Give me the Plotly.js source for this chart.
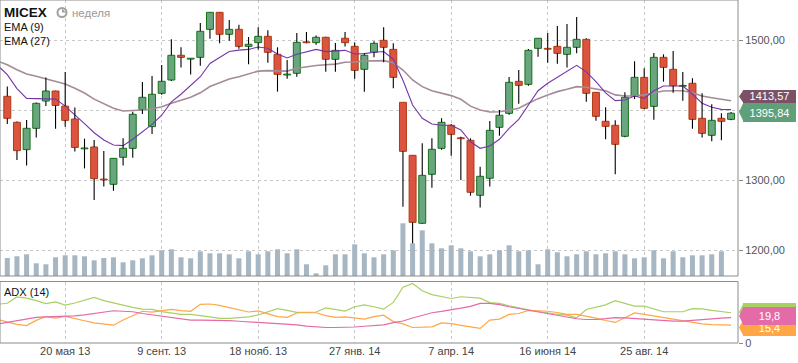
<!DOCTYPE html>
<html><head><meta charset="utf-8">
<script src="https://cdn.plot.ly/plotly-3.0.1.min.js"></script>
<style>html,body{margin:0;padding:0;background:#fff;}#chart{width:798px;height:363px;}</style>
</head><body><div id="chart"></div>
<script>
// Weekly MICEX candles (index 0..75)
const openP = [1420,1382.9,1343.8,1374.3,1413.3,1427.6,1406,1387.6,1345,1347.6,
 1301.5,1294.3,1332.9,1345.7,1401,1376.7,1424.3,1443.3,1478.6,1473.2,
 1475.7,1515.7,1540,1508.6,1515.7,1491.4,1496.7,1505.7,1480,1450.5,
 1452.9,1497.6,1496.7,1504.3,1472.9,1502.9,1491.4,1458.6,1482.9,1500,
 1487.1,1411.4,1335.7,1238.6,1308.6,1345.7,1378.6,1360.5,1357.1,1278.6,
 1302.9,1375.7,1395.7,1441.4,1437.1,1488.6,1488.3,1491.4,1480,1490,
 1501.4,1425.7,1384.3,1378.6,1362.9,1420,1447.1,1405.7,1475.7,1458.6,
 1434.4,1438.6,1388.6,1364.3,1388.6,1387.1];
const highP = [1434,1384,1386,1411,1447,1428,1454.8,1404,1359.5,1357.6,
 1342,1332,1360,1398,1440.5,1449,1464.8,1501.4,1490,1474.5,
 1524.8,1540.5,1540.5,1529,1522.4,1504.8,1518.6,1514.3,1490,1471.9,
 1510.5,1511.9,1507,1505,1496.2,1511.9,1497,1481.4,1498.6,1518.6,
 1495.7,1411.6,1336,1352.9,1360,1388.6,1380,1362.4,1360,1319.5,
 1384.8,1400.5,1447.6,1457.6,1487.6,1503.3,1510.5,1520.5,1523.3,1533.3,
 1503,1426,1404.3,1385.7,1425.7,1470,1460,1481.9,1480,1484.8,
 1454.8,1445.7,1424.3,1408.6,1395.7,1397.5];
const lowP = [1380.5,1329,1321,1361,1406,1373.8,1376.7,1341,1317,1272,
 1291,1285,1321,1332.4,1394.8,1366,1422.4,1442,1461,1451,
 1463.8,1502.4,1495.7,1499.5,1488,1465.7,1487,1468,1426.7,1445.2,
 1448,1495.7,1493.8,1455.2,1455.2,1491,1445.2,1426.7,1475.7,1468.6,
 1431.4,1262.4,1183.8,1238,1289.5,1343.8,1335.2,1300.5,1278,1261,
 1291,1363.8,1393.8,1409.5,1435.2,1476.7,1468,1466.7,1461,1481.4,
 1412.4,1385.2,1358.6,1308.6,1361.4,1416.2,1401.4,1386.7,1441,1425.2,
 1413.8,1373.8,1361,1355.7,1357.1,1385.7];
const closeP = [1388.6,1342.4,1374.3,1410,1427.6,1407,1385.7,1347,1346,1302.4,
 1300.5,1331.4,1345.7,1394.3,1418.6,1422.9,1441.4,1478.6,1475.7,1474.4,
 1512.9,1540,1508.6,1515.7,1491.4,1494.3,1505.7,1482.9,1451.4,1451.5,
 1497.1,1496.6,1504.3,1472.9,1485.7,1496.7,1457.1,1478.6,1495.7,1490,
 1447.1,1341.4,1240,1307.1,1344.3,1382.9,1365.7,1359.5,1282.9,1305.7,
 1371.4,1392.9,1440,1435.7,1485.7,1502.9,1487.3,1481.4,1490,1501.4,
 1424.3,1391.4,1377.1,1351.4,1418.6,1447.1,1402.9,1475.7,1461.4,1435.2,
 1435.2,1387.1,1367.1,1385.7,1384.3,1395.84];
const volume = [18,19.7,21.7,12.7,11.7,18.7,20.7,20.7,19.7,15.7,
 18,18.7,13.7,15.7,17.7,20.7,25.7,26.7,18.7,17.7,
 24.7,22.7,22.7,21.7,17.7,24.7,21.7,24.7,26.7,22.7,
 26.7,11.7,2.7,10.7,21.7,21.7,31.7,22.7,18.7,21.7,
 25.7,52.7,32.7,45.7,32.7,27.7,30.7,27.7,24.7,19.7,
 21.7,25.7,30.7,24.7,25.7,11.7,26.7,23.7,19.7,21.7,
 24.7,21.7,22.7,24.7,21.7,17.7,18.7,25.7,17.7,24.7,
 18.7,20.7,20.7,21.7,24.7,null];
// Indicator lines, index -1..75
const ema9 = [1464.2, 1451,1431,1417,1416.7,1416,1416,1406,1394,1381,1368,
 1357.6,1350.5,1349.5,1358.6,1369.5,1380,1393,1412,1423,1436,
 1448,1467,1475.7,1484,1486,1487,1490.5,1488.6,1480.5,1474.8,
 1480,1483.3,1487,1483.8,1484.3,1485.7,1480.5,1481,1483,1484,
 1473,1443,1407.6,1388.6,1380.5,1378.6,1378.6,1372,1355,1345.7,
 1349,1358.6,1374.3,1387,1407.6,1428,1438.6,1447,1455,1464.3,
 1455,1441,1425,1413.8,1414.8,1420.5,1417,1428,1434.8,1434.8,
 1434.8,1423.3,1410,1404.3,1401.4,1401];
const ema27 = [1470.3, 1465,1458,1452,1448.6,1445,1441.4,1437.6,1431.4,1424.8,1416,
 1410,1403,1399,1399.5,1400.5,1402,1405,1410,1414,1418.6,
 1425,1434,1439.5,1444.8,1448,1452,1456,1456.7,1456.7,1456,
 1460,1462.4,1464,1465,1466,1468.6,1469,1470.5,1471,1471,
 1468,1457.6,1443.3,1433.8,1428,1424.3,1421,1415.7,1406,1400.5,
 1397.6,1398,1400.5,1402.9,1410,1416.7,1422,1426.7,1430,1433.8,
 1432.9,1430,1428,1422,1420.5,1420.5,1422,1425.2,1427.6,1428,
 1428,1425.2,1420.5,1418,1415.7,1413.6];
const adxGreen = [31.5, 32.3,37.5,36.5,34.5,32,33.4,30.8,32.5,34.8,37,
 34.5,32.5,31,29,27.5,27.3,25.5,24.4,23.2,23.2,
 22.5,21.2,20.1,20,20.6,21.3,22.8,25.5,28,26.5,
 24.9,24.9,25.2,28.5,27.5,26,29.5,31,29.5,27.5,
 33,45.4,48.4,42.5,39.3,37.5,36.2,37.6,37.3,36.5,
 32.8,32.2,30.3,28.5,27,25.6,24.3,23.4,22.7,20.5,
 27.2,28.8,31,34.4,32,30,30,27.5,25.4,25.4,
 25.4,28,27.8,26.5,25.5,24.6];
const adxPink = [15.5, 16.8,18.6,19.9,20.9,21.2,21.3,21.3,22,22.9,24,
 25.2,26.2,25.8,25.4,24,22.9,21.8,20.5,19.3,18.6,
 18.6,18.6,18.6,18.2,17.7,17.2,16.8,16.4,16,15.7,
 14.8,13.7,12.9,12.6,12.6,12.6,13,13.6,14.2,14.8,
 16.5,17.9,20.3,22.6,24.6,25.7,27.3,28.3,29.8,32.2,
 32.2,31.2,29.5,28.1,26.7,25.2,23.6,21.9,20.5,19.7,
 19.1,19.1,19.8,20.7,20.4,19.8,19.2,18.4,17.9,17.8,
 17.8,18.5,19.2,19.6,20.2,20.6];
const adxOrange = [19, 17.3,15.2,14.2,18.4,21.5,20.2,21.6,20.1,18.1,16.4,
 15.3,14.5,18.7,22.3,25.8,25.1,26.4,27.4,26.3,25.8,
 31.4,31.7,30.6,29,26.9,25.2,26.1,24,21.5,20.8,
 24.4,24.8,24.6,22.3,20.9,21.2,20.4,19.4,21.4,22.6,
 17.4,15.5,12.6,12.7,13.1,16.4,15.8,14.3,13,11.9,
 18.6,19.4,23.3,24,26.5,26.3,25.8,24.8,23.2,23.2,
 21.8,20.2,18.3,16.7,20.5,24.4,23.3,22,20.7,19.5,
 18.6,17,15.6,15,14.5,14.5];
const tickPos = [6,16,26,36,46,56,66];
const tickLabels = ['20 мая 13','9 сент. 13','18 нояб. 13','27 янв. 14','7 апр. 14','16 июня 14','25 авг. 14'];
const priceTicks = [1200,1300,1400,1500];
// the 1400,00 label is hidden behind the last-price marker in the reference
const priceTickText = ['1200,00','1300,00','','1500,00'];

const N = openP.length;
const xi = openP.map((_, i) => i);
const xl = ema9.map((_, i) => i - 1);

const GREEN = '#69a680', GREEN_B = '#17701a', RED = '#dc5440', RED_B = '#ad3a12';
const up = openP.map((o, i) => closeP[i] >= o);
const bodyBase = openP.map((o, i) => Math.min(o, closeP[i]));
const bodyH = openP.map((o, i) => Math.max(Math.abs(closeP[i] - o), 1.2));

const wx = [], wy = [];
for (let i = 0; i < N; i++) {
  const top = Math.max(openP[i], closeP[i]), bot = Math.min(openP[i], closeP[i]);
  wx.push(i, i, null, i, i, null);
  wy.push(highP[i], top, null, bot, lowP[i], null);
}

const W = 738, H = 343;
const PX = p => p / W;
const PY = p => (H - p) / H;
const FONT = 'Liberation Sans, Arial, sans-serif';

const traces = [
  {type:'bar', x: xi, y: volume, yaxis:'y2', width:0.52, marker:{color:'#a6b6c2', line:{width:0}}, hoverinfo:'skip'},
  {type:'bar', x: xi, y: bodyH, base: bodyBase, width:0.72,
   marker:{color: up.map(u => u ? GREEN : RED), line:{color: up.map(u => u ? GREEN_B : RED_B), width:1}}, hoverinfo:'skip'},
  {type:'scatter', mode:'lines', x: xl, y: ema27, line:{color:'#a58a98', width:1.6}, hoverinfo:'skip'},
  {type:'scatter', mode:'lines', x: xl, y: ema9, line:{color:'#7536a8', width:1.1}, hoverinfo:'skip'},
  {type:'scatter', mode:'lines', x: wx, y: wy, line:{color:'#000', width:1.1}, connectgaps:false, hoverinfo:'skip'},
  {type:'scatter', mode:'lines', x: xl, y: adxGreen, xaxis:'x2', yaxis:'y3', line:{color:'#a8d062', width:1.2}, hoverinfo:'skip'},
  {type:'scatter', mode:'lines', x: xl, y: adxOrange, xaxis:'x2', yaxis:'y3', line:{color:'#ffa646', width:1.2}, hoverinfo:'skip'},
  {type:'scatter', mode:'lines', x: xl, y: adxPink, xaxis:'x2', yaxis:'y3', line:{color:'#e56aa8', width:1.2}, hoverinfo:'skip'}
];

function tip(yc, h, color) {
  const t = yc - h/2, b = yc + h/2;
  return {type:'path', xref:'paper', yref:'paper', layer:'above', fillcolor: color, line:{width:0},
    path:`M ${PX(739)} ${PY(yc)} L ${PX(743.5)} ${PY(t)} L ${PX(744)} ${PY(t)} L ${PX(744)} ${PY(b)} L ${PX(743.5)} ${PY(b)} Z`};
}
function box(text, yc, h, color) {
  return {xref:'paper', yref:'paper', x: PX(743), y: PY(yc), xanchor:'left', yanchor:'middle',
    text: text, showarrow:false, bgcolor: color, width: 53, height: h, borderpad:0, borderwidth:0,
    align:'center', font:{family: FONT, size: 11, color:'#fff'}};
}
function label(text, x, y, size, color) {
  return {xref:'paper', yref:'paper', x: PX(x), y: PY(y), xanchor:'left', yanchor:'middle',
    text: text, showarrow:false, font:{family: FONT, size: size, color: color}};
}

const shapes = [
  {type:'rect', xref:'paper', yref:'paper', x0:0, x1:1, y0:PY(276), y1:1, line:{color:'#8c8c8c', width:1}},
  {type:'rect', xref:'paper', yref:'paper', x0:0, x1:1, y0:0, y1:PY(281.5), line:{color:'#8c8c8c', width:1}},
  {type:'circle', xref:'paper', yref:'paper', x0:PX(57.5), x1:PX(66.5), y0:PY(17), y1:PY(8), fillcolor:'#fff', line:{color:'#a0a0a0', width:2}},
  {type:'path', xref:'paper', yref:'paper', fillcolor:'#a0a0a0', line:{width:0},
   path:`M ${PX(62)} ${PY(12.5)} L ${PX(62)} ${PY(8.5)} L ${PX(66)} ${PY(12.5)} Z`},
  tip(96.5, 13, '#7b5168'),
  tip(112, 19, '#5f9f7a'),
  tip(312, 18, '#a8d062'),
  tip(327.5, 17, '#ffa646'),
  tip(316, 18, '#e56aa8')
];

const annotations = [
  label('<b>MICEX</b>', 1.5, 12.5, 13.5, '#111'),
  label('неделя', 70, 13, 11.5, '#999'),
  label('EMA (9)', 1.5, 27, 11, '#111'),
  label('EMA (27)', 1.5, 41, 11, '#111'),
  label('ADX (14)', 1.5, 292, 11, '#111'),
  box('1413,57', 96.3, 12.6, '#7b5168'),
  box('1395,84', 112, 19, '#5f9f7a'),
  box('', 312, 18, '#a8d062'),
  box('15,4', 327.5, 17, '#ffa646'),
  box('19,8', 316, 18, '#e56aa8')
];

const xr = [-0.756, 75.72];
const layout = {
  width: 798, height: 363,
  margin: {l:0, r:60, t:0, b:20, pad:0},
  paper_bgcolor:'#fff', plot_bgcolor:'#fff',
  showlegend:false, barmode:'overlay', separators:', ',
  font:{family: FONT, size: 11, color:'#555'},
  xaxis: {domain:[0,1], anchor:'y', range: xr, tickvals: tickPos, ticktext: tickLabels, showticklabels:false,
    showgrid:true, gridcolor:'#c8c8c8', griddash:'dot', gridwidth:1, zeroline:false, showline:false, ticks:'', fixedrange:true},
  xaxis2: {domain:[0,1], anchor:'y3', matches:'x', range: xr, tickvals: tickPos, ticktext: tickLabels, showticklabels:true,
    tickfont:{family: FONT, size: 11, color:'#444'}, showgrid:true, gridcolor:'#c8c8c8', griddash:'dot', gridwidth:1,
    zeroline:false, showline:false, ticks:'', fixedrange:true},
  yaxis: {domain:[PY(276), 1], anchor:'x', side:'right', range:[1163.3, 1557.6], tickvals: priceTicks, ticktext: priceTickText,
    ticks:'outside', ticklen:4, tickcolor:'#888', tickfont:{family: FONT, size: 11, color:'#555'},
    showgrid:true, gridcolor:'#c8c8c8', griddash:'dot', zeroline:false, showline:false, fixedrange:true},
  yaxis2: {overlaying:'y', range:[0, 276], visible:false, fixedrange:true},
  yaxis3: {domain:[0, PY(281.5)], anchor:'x2', side:'right', range:[0, 50], tickvals:[0], ticktext:['0'],
    ticks:'outside', ticklen:4, tickcolor:'#888', tickfont:{family: FONT, size: 11, color:'#555'},
    showgrid:false, zeroline:false, showline:false, fixedrange:true},
  shapes: shapes,
  annotations: annotations
};

Plotly.newPlot('chart', traces, layout, {staticPlot:true, displayModeBar:false});
</script>
</body></html>
